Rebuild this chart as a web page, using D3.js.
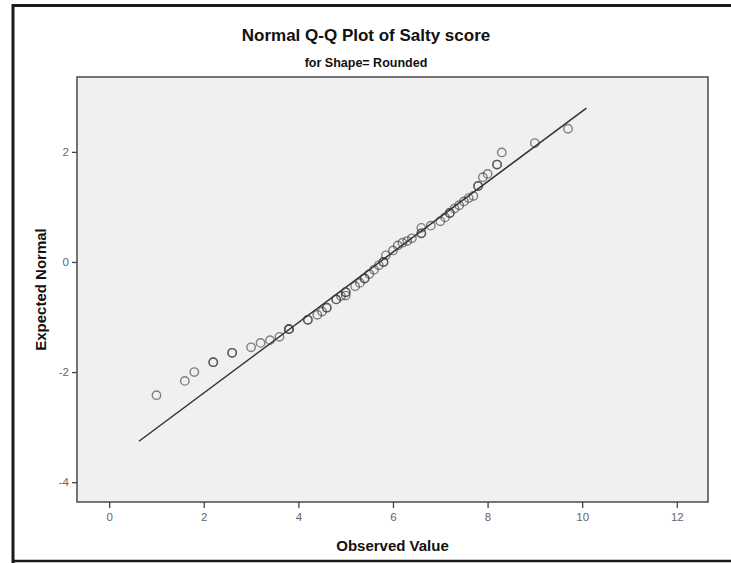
<!DOCTYPE html>
<html><head><meta charset="utf-8">
<script src="https://cdn.jsdelivr.net/npm/d3@7"></script>
<style>body{margin:0;background:#fff}svg{display:block}text{font-family:"Liberation Sans",Arial,sans-serif}</style>
</head><body>
<svg id="c" width="731" height="563"></svg>
<script>
// ---- data ----
const titleText = "Normal Q-Q Plot of Salty score";
const subtitleText = "for Shape= Rounded";
const xLabel = "Observed Value";
const yLabel = "Expected Normal";
const xTicks = [0, 2, 4, 6, 8, 10, 12];
const yTicks = [2, 0, -2, -4];
const xDomain = [-0.68, 12.66];
const yDomain = [-4.36, 3.36];
// observed values (duplicates = tied cases drawn on top of each other)
const observed = [1.0,1.6,1.8,2.2,2.2,2.6,2.6,3.0,3.2,3.4,3.6,3.8,3.8,3.8,
  4.2,4.2,4.4,4.5,4.6,4.6,4.8,4.8,4.9,5.0,5.0,5.0,5.2,5.3,5.4,5.4,5.5,5.6,5.7,5.8,5.8,
  5.85,6.0,6.1,6.2,6.3,6.4,6.6,6.6,6.6,6.8,7.0,7.1,7.2,7.2,7.3,7.4,7.5,7.6,7.7,7.8,7.8,
  7.9,8.0,8.2,8.2,8.3,9.0,9.7];
const expected = [-2.42,-2.16,-2.00,-1.82,-1.82,-1.65,-1.65,-1.55,-1.47,-1.42,-1.36,-1.22,-1.22,-1.22,
  -1.05,-1.05,-0.96,-0.90,-0.83,-0.83,-0.68,-0.68,-0.62,-0.55,-0.55,-0.61,-0.44,-0.38,-0.30,-0.30,-0.22,-0.14,-0.06,0.00,0.00,
  0.12,0.21,0.30,0.35,0.38,0.43,0.52,0.52,0.62,0.66,0.74,0.81,0.89,0.89,0.97,1.03,1.10,1.16,1.20,1.38,1.38,
  1.54,1.60,1.77,1.77,1.99,2.16,2.42];
// reference line end points (observed)
const lineX = [0.63, 10.09];
const lineMean = 5.72, lineSD = 1.563;

// ---- drawing ----
const svg = d3.select("#c");
const plot = {l:77, t:77, r:708, b:502};
const x = d3.scaleLinear().domain(xDomain).range([plot.l, plot.r]);
const y = d3.scaleLinear().domain(yDomain).range([plot.b, plot.t]);

// outer frame
svg.append("line").attr("x1",13).attr("x2",731).attr("y1",5.5).attr("y2",5.5).attr("stroke","#1a1a1a").attr("stroke-width",3);
svg.append("line").attr("x1",13).attr("x2",13).attr("y1",4).attr("y2",563).attr("stroke","#1a1a1a").attr("stroke-width",3);
svg.append("line").attr("x1",13).attr("x2",731).attr("y1",561).attr("y2",561).attr("stroke","#1a1a1a").attr("stroke-width",2.5);

// titles
svg.append("text").attr("x",366).attr("y",41).attr("text-anchor","middle")
  .attr("font-size",17).attr("font-weight","bold").attr("fill","#111").text(titleText);
svg.append("text").attr("x",366).attr("y",67).attr("text-anchor","middle")
  .attr("font-size",12.5).attr("font-weight","bold").attr("fill","#111").text(subtitleText);

// plot background
svg.append("rect").attr("x",plot.l).attr("y",plot.t).attr("width",plot.r-plot.l).attr("height",plot.b-plot.t)
  .attr("fill","#f0f0f0").attr("stroke","#555").attr("stroke-width",1.6);

// axes
const xAxis = d3.axisBottom(x).tickValues(xTicks).tickSize(6).tickPadding(5).tickFormat(d3.format("d"));
const yAxis = d3.axisLeft(y).tickValues(yTicks).tickSize(5).tickPadding(3).tickFormat(d=>d<0?"-"+Math.abs(d):d);
const gx = svg.append("g").attr("transform",`translate(0,${plot.b})`).call(xAxis);
const gy = svg.append("g").attr("transform",`translate(${plot.l},0)`).call(yAxis);
[gx,gy].forEach(g=>{
  g.select(".domain").remove();
  g.selectAll(".tick line").attr("stroke","#444").attr("stroke-width",1.3);
  g.selectAll(".tick text").attr("fill","#666").attr("font-size",11.5).attr("font-family","'Liberation Sans',Arial,sans-serif");
});

// axis labels
svg.append("text").attr("x",(plot.l+plot.r)/2).attr("y",551).attr("text-anchor","middle")
  .attr("font-size",15).attr("font-weight","bold").attr("fill","#111").text(xLabel);
svg.append("text").attr("transform",`translate(46,${(plot.t+plot.b)/2}) rotate(-90)`).attr("text-anchor","middle")
  .attr("font-size",15).attr("font-weight","bold").attr("fill","#111").text(yLabel);

// reference line
svg.append("line")
  .attr("x1",x(lineX[0])).attr("y1",y((lineX[0]-lineMean)/lineSD))
  .attr("x2",x(lineX[1])).attr("y2",y((lineX[1]-lineMean)/lineSD))
  .attr("stroke","#333").attr("stroke-width",1.5);

// points
const pts = observed.map((v,i)=>({x:v, y:expected[i]}));
svg.append("g").selectAll("circle").data(pts).join("circle")
  .attr("cx",d=>x(d.x)).attr("cy",d=>y(d.y)).attr("r",4.2)
  .attr("fill","none").attr("stroke","#3a3a3a").attr("stroke-opacity",0.62).attr("stroke-width",1.4);
</script>
</body></html>
